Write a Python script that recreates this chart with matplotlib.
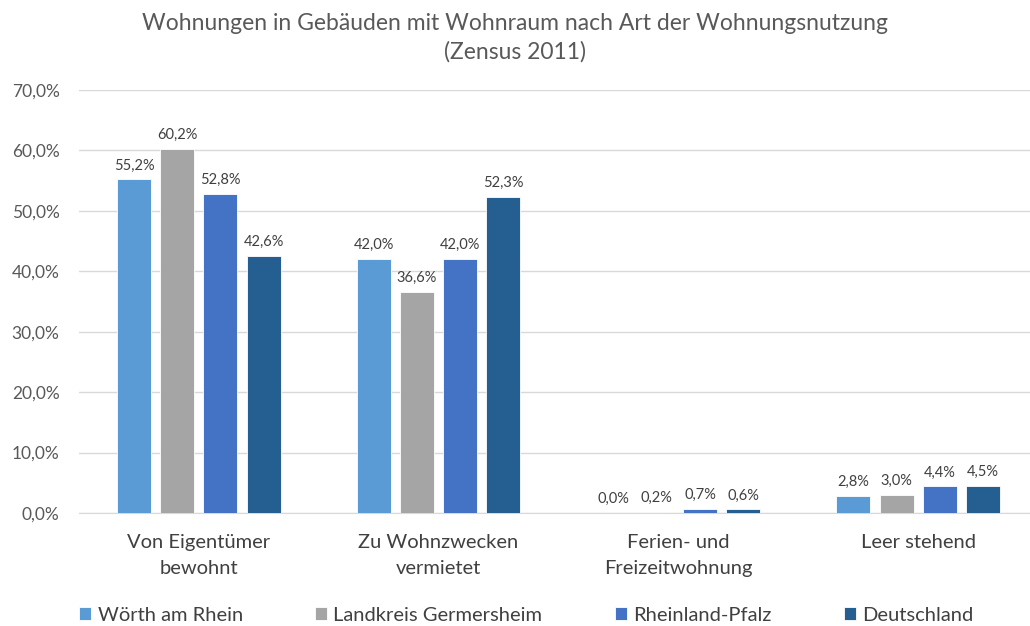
import matplotlib
matplotlib.use("Agg")
import matplotlib.pyplot as plt
import numpy as np

categories = ["Von Eigentümer\nbewohnt", "Zu Wohnzwecken\nvermietet", "Ferien- und\nFreizeitwohnung", "Leer stehend"]
series_names = ["Wörth am Rhein", "Landkreis Germersheim", "Rheinland-Pfalz", "Deutschland"]
woerth = [55.2, 42.0, 0.0, 2.8]
germersheim = [60.2, 36.6, 0.2, 3.0]
rlp = [52.8, 42.0, 0.7, 4.4]
deutschland = [42.6, 52.3, 0.6, 4.5]
series = [woerth, germersheim, rlp, deutschland]
colors = ["#5B9BD5", "#A5A5A5", "#4472C4", "#255E91"]
yticks = [0, 10, 20, 30, 40, 50, 60, 70]

plt.rcParams['font.family'] = ['Lato', 'DejaVu Sans']
txt = "#595959"

fig = plt.figure(figsize=(10.3, 6.26), dpi=100)
ax = fig.add_axes([79 / 1030, 113 / 626, 959 / 1030, 423 / 626])

x = np.arange(len(categories))
width = 0.142
step = 0.18
offsets = [-1.5 * step, -0.5 * step, 0.5 * step, 1.5 * step]
for vals, name, col, off in zip(series, series_names, colors, offsets):
    bars = ax.bar(x + off, vals, width, color=col, label=name, zorder=3,
                  edgecolor="white", linewidth=0.6)
    for b, v in zip(bars, vals):
        ax.annotate(f"{v:.1f}%".replace(".", ","), (b.get_x() + b.get_width() / 2, v),
                    xytext=(0, 5), textcoords="offset points", ha="center", va="bottom",
                    fontsize=10.5, color="#404040")

ax.set_xlim(-0.5, 3.5)
ax.set_ylim(0, 70)
ax.set_yticks(yticks)
ax.set_yticklabels([f"{t:.1f}%".replace(".", ",") for t in yticks], fontsize=12.5, color=txt)
ax.set_xticks(x)
ax.set_xticklabels(categories, fontsize=14.5, color="#404040", linespacing=1.65)
ax.tick_params(axis="both", length=0)
ax.tick_params(axis="y", pad=14)
ax.tick_params(axis="x", pad=15)
ax.grid(axis="y", color="#D9D9D9", linewidth=1, zorder=0)
for s in ["top", "right", "left"]:
    ax.spines[s].set_visible(False)
ax.spines["bottom"].set_color("#D9D9D9")

fig.suptitle("Wohnungen in Gebäuden mit Wohnraum nach Art der Wohnungsnutzung\n(Zensus 2011)",
             y=0.98, fontsize=16.5, color=txt, linespacing=1.45)

leg = fig.legend(loc="lower center", bbox_to_anchor=(0.511, -0.025), ncol=4, frameon=False,
                 fontsize=14.5, handlelength=0.6, handleheight=0.6, handletextpad=0.3,
                 columnspacing=3.6)
for t in leg.get_texts():
    t.set_color("#404040")

fig.savefig("out.png", dpi=100)
